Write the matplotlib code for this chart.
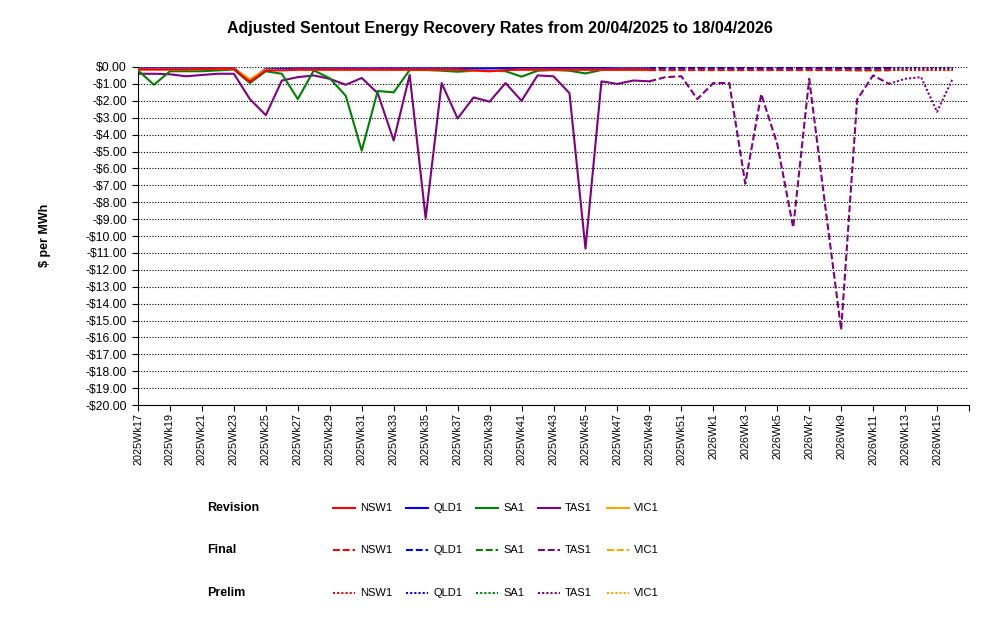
import matplotlib
matplotlib.use("Agg")
from matplotlib import pyplot as plt
from matplotlib.lines import Line2D
from matplotlib.ticker import FuncFormatter, MultipleLocator

plt.rcParams['font.family'] = ['Liberation Sans', 'DejaVu Sans']

TITLE = "Adjusted Sentout Energy Recovery Rates from 20/04/2025 to 18/04/2026"

weeks = [f"2025Wk{w}" for w in range(17, 53)] + [f"2026Wk{w}" for w in range(1, 17)]

# run type of each week: Revision up to 2025Wk49, Final up to 2026Wk11, then Prelim
run_type = ["Revision"] * 33 + ["Final"] * 15 + ["Prelim"] * 4

nsw1 = [-0.15, -0.15, -0.15, -0.15, -0.12, -0.10, -0.10, -0.88, -0.20, -0.20,
        -0.16, -0.16, -0.16, -0.16, -0.16, -0.16, -0.16, -0.16, -0.16, -0.16,
        -0.16, -0.20, -0.25, -0.18, -0.16, -0.16, -0.16, -0.16, -0.16, -0.16,
        -0.16, -0.16, -0.16, -0.16, -0.16, -0.16, -0.16, -0.16, -0.16, -0.16,
        -0.16, -0.16, -0.16, -0.16, -0.16, -0.16, -0.16, -0.16, -0.16, -0.16,
        -0.16, -0.16]
qld1 = [-0.08, -0.08, -0.08, -0.08, -0.08, -0.06, -0.06, -0.80, -0.10, -0.10,
        -0.08, -0.08, -0.08, -0.08, -0.08, -0.08, -0.08, -0.08, -0.08, -0.08,
        -0.08, -0.08, -0.08, -0.06, -0.06, -0.06, -0.06, -0.06, -0.06, -0.06,
        -0.08, -0.08, -0.08, -0.08, -0.08, -0.08, -0.08, -0.08, -0.08, -0.08,
        -0.08, -0.08, -0.08, -0.08, -0.08, -0.08, -0.08, -0.08, -0.08, -0.08,
        -0.08, -0.08]
sa1 = [-0.20, -1.05, -0.25, -0.25, -0.25, -0.20, -0.15, -0.95, -0.25, -0.40,
       -1.90, -0.20, -0.67, -1.70, -4.95, -1.42, -1.50, -0.18, -0.18, -0.22,
       -0.28, -0.22, -0.22, -0.25, -0.57, -0.22, -0.18, -0.22, -0.38, -0.18,
       -0.15, -0.18, -0.18, -0.18, -0.18, -0.18, -0.18, -0.18, -0.18, -0.18,
       -0.18, -0.18, -0.18, -0.18, -0.18, -0.20, -0.20, -0.20, -0.20, -0.20,
       -0.20, -0.20]
tas1 = [-0.40, -0.40, -0.43, -0.55, -0.47, -0.40, -0.40, -1.90, -2.85, -0.80,
        -0.60, -0.50, -0.70, -1.05, -0.65, -1.55, -4.35, -0.47, -8.95, -0.95,
        -3.05, -1.80, -2.05, -0.95, -2.00, -0.50, -0.55, -1.55, -10.75, -0.85,
        -1.00, -0.80, -0.85, -0.60, -0.55, -1.90, -0.95, -0.95, -6.90, -1.60,
        -4.55, -9.50, -0.70, -8.20, -15.55, -1.92, -0.50, -1.00, -0.70, -0.60,
        -2.65, -0.65]
vic1 = [-0.15, -0.15, -0.15, -0.15, -0.12, -0.10, -0.10, -0.72, -0.15, -0.18,
        -0.16, -0.16, -0.16, -0.16, -0.16, -0.16, -0.16, -0.16, -0.16, -0.16,
        -0.16, -0.22, -0.25, -0.18, -0.16, -0.16, -0.16, -0.16, -0.16, -0.16,
        -0.16, -0.16, -0.16, -0.16, -0.16, -0.16, -0.16, -0.16, -0.16, -0.16,
        -0.16, -0.16, -0.16, -0.16, -0.16, -0.16, -0.16, -0.16, -0.16, -0.16,
        -0.16, -0.16]

regions = ["NSW1", "QLD1", "SA1", "TAS1", "VIC1"]
series = {"NSW1": nsw1, "QLD1": qld1, "SA1": sa1, "TAS1": tas1, "VIC1": vic1}
colors = {"NSW1": "#FF0000", "QLD1": "#0000FF", "SA1": "#008000",
          "TAS1": "#800080", "VIC1": "#FFA500"}
zorders = {"NSW1": 6, "QLD1": 4, "SA1": 3, "TAS1": 2, "VIC1": 5}

types = ["Revision", "Final", "Prelim"]
styles = {"Revision": dict(linestyle="-"),
          "Final": dict(linestyle=(0, (3.3, 1.4))),
          "Prelim": dict(linestyle=(0, (1, 1)))}

LW = 1.5

fig = plt.figure(figsize=(10, 6.25), dpi=100)
ax = fig.add_axes([0.138, 0.352, 0.831, 0.5408])

x = list(range(len(weeks)))

for region in regions:
    vals = series[region]
    for t in types:
        idx = [i for i in x if run_type[i] == t]
        if not idx:
            continue
        start = idx[0] - 1 if idx[0] > 0 else idx[0]
        seg = list(range(start, idx[-1] + 1))
        ax.plot(seg, [vals[i] for i in seg], color=colors[region], lw=LW,
                zorder=zorders[region], **styles[t])

ax.set_xlim(0, len(weeks))
ax.set_ylim(-20, 0)

ax.yaxis.set_major_locator(MultipleLocator(1))
ax.yaxis.set_major_formatter(FuncFormatter(
    lambda v, p: f"-${abs(v):.2f}" if v < -1e-9 else f"${abs(v):.2f}"))

ticks = list(range(0, len(weeks) + 1, 2))
ax.set_xticks(ticks)
ax.set_xticklabels([weeks[i] if i < len(weeks) else "" for i in ticks],
                   rotation=90, fontsize=7.8)
ax.tick_params(axis="y", labelsize=8.7, length=4, pad=4, width=0.8)
ax.tick_params(axis="x", length=4, pad=2, width=0.8)

ax.grid(axis="y", color="black", linestyle=(0, (1, 1.5)), lw=0.8, zorder=0)
ax.set_axisbelow(True)
for s in ["top", "right"]:
    ax.spines[s].set_visible(False)
for s in ["left", "bottom"]:
    ax.spines[s].set_linewidth(0.8)

fig.text(0.5, 1 - 28 / 625, TITLE, ha="center", va="center",
         fontsize=11.5, fontweight="bold")
fig.text(0.045, 1 - 235 / 625, "$ per MWh", rotation=90, ha="center",
         va="center", fontsize=9, fontweight="bold")

# legend grid: one row per run type, one entry per region
row_y = {"Revision": 508, "Final": 550, "Prelim": 593}
entry_x = {"NSW1": 333, "QLD1": 406, "SA1": 476, "TAS1": 538, "VIC1": 607}
for t in types:
    yf = 1 - row_y[t] / 625
    fig.text(207 / 1000, yf, t, ha="left", va="center", fontsize=9,
             fontweight="bold")
    for region in regions:
        x0 = entry_x[region]
        fig.add_artist(Line2D([x0 / 1000, (x0 + 22) / 1000], [yf, yf],
                              color=colors[region], lw=LW, **styles[t]))
        fig.text((x0 + 27) / 1000, yf, region, ha="left", va="center",
                 fontsize=8)

fig.savefig("out.png", dpi=100)
